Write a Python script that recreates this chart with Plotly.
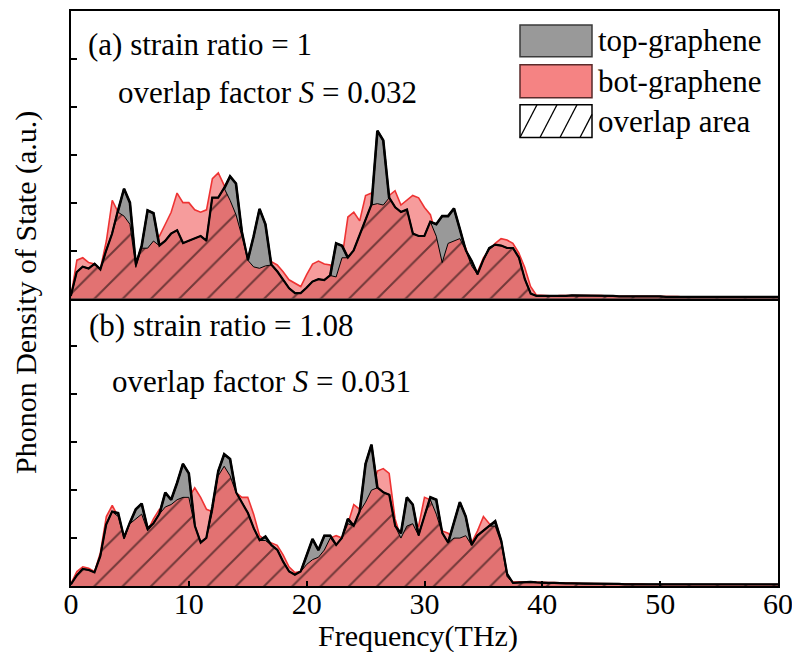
import numpy as np
import plotly.graph_objects as go

# ---------------- data (THz, a.u.) ----------------
freq = np.round(np.arange(0, 60.01, 0.5), 2)

top_a = [0.05,0.55,0.66,0.62,0.72,0.60,1.00,1.35,1.84,2.29,
         2.00,0.70,1.10,1.84,1.78,1.10,1.20,1.35,1.42,1.15,
         1.20,1.25,1.30,1.20,2.10,2.10,2.30,2.55,2.40,1.39,
         0.80,1.30,1.87,1.55,0.70,0.56,0.39,0.21,0.11,0.11,
         0.22,0.35,0.40,0.38,0.48,1.15,1.10,0.85,1.00,1.32,
         1.67,1.95,3.50,3.30,2.10,1.90,1.80,1.85,1.35,1.30,
         1.30,1.60,1.55,1.72,1.72,1.88,1.45,1.00,0.78,0.50,
         0.80,1.05,1.12,1.10,1.05,1.05,0.85,0.40,0.10,0.05,
         0.05,0.05,0.04,0.05,0.05,0.06,0.06,0.05,0.05,0.06,
         0.06,0.05,0.05,0.04,0.04,0.05,0.04,0.04,0.04,0.04,
         0.04,0.03,0.03,0.04,0.03,0.03,0.03,0.03,0.03,0.04,
         0.04,0.03,0.03,0.03,0.03,0.03,0.03,0.03,0.03,0.03,0.03]

bot_a = [0.05,0.80,0.85,0.75,0.72,0.62,1.20,2.05,1.80,1.72,
         1.55,0.65,1.05,1.05,1.20,1.30,1.55,1.80,2.20,2.00,
         2.00,1.85,1.80,1.85,2.50,2.62,2.36,2.05,1.75,1.30,
         0.84,0.66,0.63,0.68,0.77,0.70,0.56,0.39,0.32,0.25,
         0.50,0.72,0.78,0.72,0.70,0.45,0.85,1.70,1.80,1.62,
         2.15,2.20,1.98,1.95,2.15,2.25,1.95,2.05,2.15,2.10,
         1.90,1.75,1.30,0.75,1.15,1.20,1.25,1.05,0.68,0.55,
         0.85,1.02,1.15,1.25,1.22,1.15,0.95,0.65,0.25,0.07,
         0.06,0.06,0.05,0.06,0.06,0.07,0.07,0.06,0.06,0.06,
         0.06,0.05,0.05,0.05,0.05,0.05,0.04,0.04,0.04,0.04,
         0.04,0.04,0.04,0.04,0.03,0.03,0.03,0.03,0.03,0.04,
         0.04,0.04,0.03,0.03,0.03,0.03,0.03,0.03,0.03,0.03,0.03]

top_b = [0.03,0.22,0.35,0.33,0.28,0.62,1.28,1.55,1.52,1.00,
         1.32,1.60,1.72,1.20,1.30,1.50,1.95,1.80,2.15,2.55,
         2.35,1.25,0.90,1.00,1.65,2.40,2.75,2.65,1.95,1.75,
         1.52,1.20,0.95,1.03,0.85,0.75,0.50,0.30,0.23,0.30,
         0.65,0.98,0.75,1.05,1.05,0.85,1.00,1.40,1.25,1.55,
         2.55,2.95,2.05,1.95,1.90,1.25,1.10,1.85,1.70,1.05,
         1.45,1.85,1.80,1.10,0.90,1.35,1.75,1.45,0.85,1.05,
         1.15,1.25,1.35,0.95,0.25,0.06,0.07,0.07,0.08,0.07,
         0.06,0.06,0.06,0.05,0.05,0.05,0.05,0.04,0.04,0.04,
         0.04,0.04,0.04,0.04,0.03,0.03,0.03,0.03,0.03,0.03,
         0.03,0.03,0.03,0.03,0.03,0.03,0.03,0.03,0.03,0.03,
         0.03,0.03,0.03,0.03,0.03,0.03,0.03,0.03,0.03,0.03,0.03]

bot_b = [0.05,0.30,0.40,0.37,0.30,0.70,1.45,1.68,1.45,0.98,
         1.30,1.40,1.50,1.15,1.40,1.60,1.65,1.70,1.80,1.85,
         1.85,2.05,1.85,1.60,1.55,2.30,2.50,2.30,1.95,1.85,
         1.85,1.50,1.05,0.95,0.90,0.85,0.65,0.40,0.28,0.30,
         0.45,0.55,0.60,0.75,1.00,1.05,1.00,1.30,1.70,1.60,
         1.75,2.00,2.40,2.45,2.35,1.40,1.00,1.25,1.30,1.25,
         1.85,1.80,1.50,1.15,1.10,1.00,1.00,1.05,0.90,1.15,
         1.45,1.30,1.25,0.90,0.20,0.08,0.09,0.08,0.09,0.08,
         0.07,0.07,0.07,0.06,0.06,0.06,0.05,0.05,0.05,0.05,
         0.04,0.04,0.04,0.04,0.04,0.04,0.04,0.04,0.03,0.03,
         0.03,0.03,0.03,0.03,0.03,0.03,0.03,0.03,0.03,0.03,
         0.03,0.03,0.03,0.03,0.03,0.03,0.03,0.03,0.03,0.03,0.03]

x_ticks = [0, 10, 20, 30, 40, 50, 60]
panel_labels = ["(a) strain ratio = 1", "(b) strain ratio = 1.08"]
overlap_labels = ["overlap factor <i>S</i> = 0.032", "overlap factor <i>S</i> = 0.031"]
legend_names = ["top-graphene", "bot-graphene", "overlap area"]

# ---------------- style ----------------
FONT = "Liberation Serif"
FS = 31
FS_AX = 30
PINK = "#F69C9C"
RED = "#EE3333"
GRAY = "#999999"
OVL = "#E27272"

OFF = 8                      # page body margin
W, H = 792, 644
ML, MR, MT, MB = 63, 22, 1, 66
PW, PH = W - ML - MR, H - MT - MB


def px(xp):
    """page x pixel -> paper x"""
    return (xp - OFF - ML) / PW


def py(yp):
    """page y pixel -> paper y"""
    return (OFF + H - MB - yp) / PH


fig = go.Figure()

panels = [("x2", "y2", top_a, bot_a), ("x", "y", top_b, bot_b)]
for xa, ya, top, bot in panels:
    top = np.array(top)
    bot = np.array(bot)
    ov = np.minimum(top, bot)
    common = dict(x=freq, xaxis=xa, yaxis=ya, mode="lines",
                  showlegend=False, hoverinfo="skip")
    fig.add_trace(go.Scatter(y=bot, fill="tozeroy", fillcolor=PINK,
                             line=dict(color=RED, width=1.6), **common))
    fig.add_trace(go.Scatter(y=top, fill="tozeroy", fillcolor=GRAY,
                             line=dict(color="black", width=2.6), **common))
    fig.add_trace(go.Scatter(y=ov, fill="tozeroy", fillcolor=OVL,
                             fillpattern=dict(shape="/", fgcolor="black",
                                              bgcolor=OVL, size=20,
                                              solidity=0.1),
                             line=dict(color="black", width=1), **common))
    fig.add_trace(go.Scatter(y=top, line=dict(color="black", width=1.8),
                             **common))

axis_common = dict(showline=True, mirror=True, linewidth=2, linecolor="black",
                   showgrid=False, zeroline=False)
fig.update_layout(
    width=W, height=H,
    margin=dict(l=ML, r=MR, t=MT, b=MB),
    plot_bgcolor="white", paper_bgcolor="white",
    showlegend=False,
    font=dict(family=FONT, size=FS, color="black"),
    xaxis=dict(domain=[0, 1], range=[0, 60], anchor="y", tickvals=x_ticks,
               ticks="inside", ticklen=5, tickwidth=1.5, tickcolor="black",
               ticklabelstandoff=-10,
               tickfont=dict(family=FONT, size=FS_AX), **axis_common),
    xaxis2=dict(domain=[0, 1], range=[0, 60], anchor="y2",
                showticklabels=False, ticks="", **axis_common),
    yaxis=dict(domain=[0, 0.5], range=[0, 6], anchor="x", tick0=0, dtick=1,
               ticks="inside", ticklen=6, tickwidth=2, tickcolor="black",
               showticklabels=False, **axis_common),
    yaxis2=dict(domain=[0.5, 1], range=[0, 6], anchor="x2", tick0=0, dtick=1,
                ticks="inside", ticklen=6, tickwidth=2, tickcolor="black",
                showticklabels=False, **axis_common),
)

ann = []
# axis titles
ann.append(dict(text="Frequency(THz)", x=px(418), y=py(636), xref="paper",
                yref="paper", xanchor="center", yanchor="middle",
                showarrow=False, font=dict(family=FONT, size=FS_AX)))
ann.append(dict(text="Phonon Density of State (a.u.)", x=px(26), y=py(292),
                xref="paper", yref="paper", xanchor="center",
                yanchor="middle", textangle=-90, showarrow=False,
                font=dict(family=FONT, size=30)))
# panel texts
label_pos = [(86, 43), (87, 325)]
overlap_pos = [(116, 91), (110, 381)]
for txt, (lx, ly) in zip(panel_labels, label_pos):
    ann.append(dict(text=txt, x=px(lx), y=py(ly), xref="paper", yref="paper",
                    xanchor="left", yanchor="middle", showarrow=False,
                    font=dict(family=FONT, size=FS)))
for txt, (lx, ly) in zip(overlap_labels, overlap_pos):
    ann.append(dict(text=txt, x=px(lx), y=py(ly), xref="paper", yref="paper",
                    xanchor="left", yanchor="middle", showarrow=False,
                    font=dict(family=FONT, size=FS)))

# legend (drawn manually)
shapes = []
sw_x0, sw_x1 = 520, 592
rows = [(23, 55), (63, 96), (103, 136)]
fills = [GRAY, "#F58383", "white"]
borders = ["#3a3a3a", "#5a2a2a", "black"]
for (y0, y1), fc, bc, name in zip(rows, fills, borders, legend_names):
    shapes.append(dict(type="rect", xref="paper", yref="paper",
                       x0=px(sw_x0), x1=px(sw_x1), y0=py(y1), y1=py(y0),
                       fillcolor=fc, line=dict(color=bc, width=1.5),
                       layer="above"))
    ann.append(dict(text=name, x=px(596), y=py((y0 + y1) / 2), xref="paper",
                    yref="paper", xanchor="left", yanchor="middle",
                    showarrow=False, font=dict(family=FONT, size=FS)))
# hatch lines in last swatch
hy0, hy1 = rows[2]
dx = 17
for xb in [520, 540, 560, 580]:
    t0 = max(0.0, (sw_x0 - xb) / dx)
    t1 = min(1.0, (sw_x1 - xb) / dx)
    if t0 < t1:
        xa_, ya_ = xb + dx * t0, hy1 - (hy1 - hy0) * t0
        xb_, yb_ = xb + dx * t1, hy1 - (hy1 - hy0) * t1
        shapes.append(dict(type="line", xref="paper", yref="paper",
                           x0=px(xa_), y0=py(ya_), x1=px(xb_), y1=py(yb_),
                           line=dict(color="black", width=1.3),
                           layer="above"))

fig.update_layout(annotations=ann, shapes=shapes)
fig.write_html("out.html")
